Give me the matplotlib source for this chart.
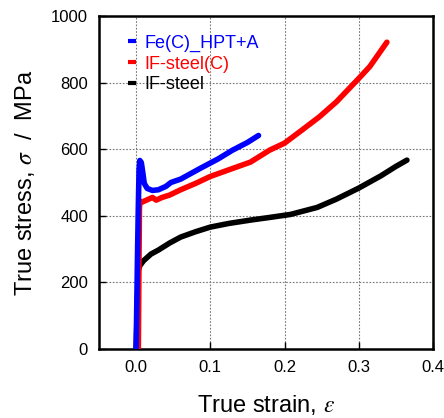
import matplotlib
matplotlib.use("Agg")
import matplotlib.pyplot as plt
from matplotlib.lines import Line2D

plt.rcParams['font.family'] = ['Liberation Sans', 'DejaVu Sans']
plt.rcParams['mathtext.fontset'] = 'stix'

# Fe(C)_HPT+A
blue_strain = [0.0, 0.001, 0.002, 0.003, 0.004, 0.005, 0.007, 0.009, 0.011, 0.015, 0.022, 0.03,
               0.04, 0.047, 0.06, 0.087, 0.11, 0.13, 0.15, 0.165]
blue_stress = [0, 150, 300, 430, 540, 566, 560, 530, 497, 482, 476, 478,
               488, 500, 510, 543, 570, 597, 620, 641]

# IF-steel(C)
red_strain = [0.003, 0.0035, 0.004, 0.0045, 0.005, 0.007, 0.012, 0.022, 0.027, 0.035,
              0.045, 0.06, 0.08, 0.1, 0.125, 0.154, 0.18, 0.2, 0.224, 0.247, 0.27, 0.3,
              0.315, 0.338]
red_stress = [0, 150, 300, 420, 445, 440, 445, 455, 447, 455,
              462, 478, 497, 518, 538, 561, 597, 618, 658, 697, 742, 812,
              848, 921]

# IF-steel
black_strain = [0.0, 0.001, 0.002, 0.003, 0.005, 0.01, 0.02, 0.03, 0.045, 0.06, 0.08, 0.1, 0.125,
                0.154, 0.18, 0.208, 0.244, 0.27, 0.3, 0.33, 0.35, 0.365]
black_stress = [0, 80, 160, 237, 250, 265, 285, 297, 318, 336, 352, 366, 377,
                387, 395, 404, 425, 450, 483, 520, 548, 567]

xticks = [0.0, 0.1, 0.2, 0.3, 0.4]
yticks = [0, 200, 400, 600, 800, 1000]

fig = plt.figure(figsize=(4.44, 4.18), dpi=100)
ax = fig.add_axes([0.223, 0.165, 0.752, 0.797])

ax.plot(black_strain, black_stress, color='black', lw=4, solid_capstyle='round', zorder=3)
ax.plot(red_strain, red_stress, color='#ff0000', lw=4, solid_capstyle='round', zorder=4)
ax.plot(blue_strain, blue_stress, color='#0000ff', lw=4, solid_capstyle='round', zorder=5)

ax.set_xlim(-0.05, 0.4)
ax.set_ylim(0, 1000)
ax.set_xticks(xticks)
ax.set_xticklabels([f"{t:.1f}" for t in xticks])
ax.set_yticks(yticks)
ax.set_yticklabels([str(t) for t in yticks])
ax.tick_params(direction='in', length=5, width=1, labelsize=12, pad=8)
for s in ax.spines.values():
    s.set_linewidth(1.8)
ax.grid(True, color='#777777', linestyle=(0, (1.5, 1.5)), linewidth=0.8)
ax.set_axisbelow(True)

ax.set_xlabel(r'True strain, $\varepsilon$', fontsize=17, labelpad=13)
ax.set_ylabel(r'True stress, $\sigma$  /  MPa', fontsize=17, labelpad=10)

labels = ['Fe(C)_HPT+A', 'IF-steel(C)', 'IF-steel']
colors = ['#0000ff', '#ff0000', 'black']
handles = [Line2D([], [], color=c, lw=3, solid_capstyle='butt') for c in colors]
leg = ax.legend(handles, labels,
                loc='upper left', bbox_to_anchor=(0.065, 0.965), frameon=False,
                handlelength=0.45, handletextpad=0.45, labelspacing=0.2,
                fontsize=13, labelcolor=colors, borderaxespad=0.0)

fig.savefig('out.png', dpi=100)
